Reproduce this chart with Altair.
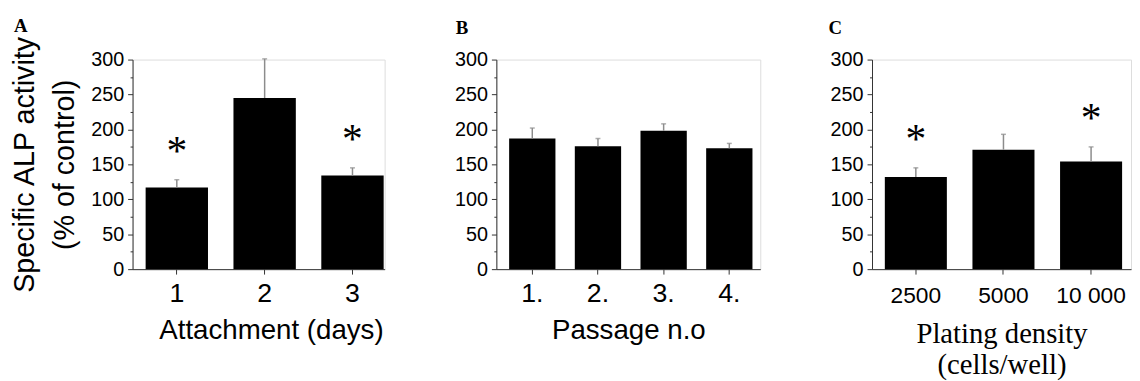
import altair as alt
import pandas as pd

# Panel A
a_cats = ["1", "2", "3"]
a_vals = [117, 245, 134]
a_upper = [128, 301, 145]
a_star = [True, False, True]

# Panel B
b_cats = ["1.", "2.", "3.", "4."]
b_vals = [187, 176, 198, 173]
b_upper = [202, 187, 208, 180]
b_star = [False, False, False, False]

# Panel C
c_cats = ["2500", "5000", "10 000"]
c_vals = [132, 171, 154]
c_upper = [145, 193, 175]
c_star = [True, False, True]

y_ticks = list(range(0, 301, 25))

SANS = "Liberation Sans"
SERIF = "Liberation Serif"
AXIS_GRAY = "#333333"
ERR_GRAY = "#8c8c8c"


def panel(cats, vals, upper, star, letter, letter_dx, letter_offset, xtitle, width,
          pin, pout, align, xlabel_size, xlabel_pad, xtitle_font, xtitle_size,
          xtitle_pad, show_ytitle, title_x=None):
    df = pd.DataFrame({"cat": cats, "value": vals, "upper": upper, "star": star})
    xscale = alt.Scale(paddingInner=pin, paddingOuter=pout, align=align)
    xaxis_kw = dict(
        labelAngle=0, labelFont=SANS, labelFontSize=xlabel_size, labelColor="black",
        labelPadding=xlabel_pad, tickSize=5, tickColor=AXIS_GRAY, domainColor=AXIS_GRAY,
        title=xtitle, titleFont=xtitle_font, titleFontSize=xtitle_size,
        titleFontWeight="normal", titleColor="black", titlePadding=xtitle_pad,
        titleLineHeight=32,
    )
    if title_x is not None:
        xaxis_kw["titleX"] = title_x
    x = alt.X("cat:N", sort=cats, scale=xscale, axis=alt.Axis(**xaxis_kw))
    yaxis_kw = dict(
        values=y_ticks, tickCount=len(y_ticks),
        labelExpr="datum.value % 50 === 0 ? datum.label : ''",
        labelOverlap=False,
        labelFont=SANS, labelFontSize=20, labelColor="black", labelPadding=4,
        tickSize={"condition": {"test": "datum.value % 50 !== 0", "value": 2.5}, "value": 5},
        tickColor=AXIS_GRAY, domainColor=AXIS_GRAY, grid=False,
    )
    if show_ytitle:
        yaxis_kw.update(
            title=["Specific ALP activity", "(% of control)"],
            titleFont=SANS, titleFontSize=29, titleFontWeight="normal",
            titleColor="black", titleLineHeight=41, titlePadding=11,
        )
    else:
        yaxis_kw["title"] = None
    y = alt.Y("value:Q", scale=alt.Scale(domain=[0, 300], nice=False),
              axis=alt.Axis(**yaxis_kw))
    base = alt.Chart(df)
    bars = base.mark_bar(color="black").encode(x=x, y=y)
    err = base.mark_rule(color=ERR_GRAY, strokeWidth=1.5).encode(
        x=alt.X("cat:N", sort=cats), y="value:Q", y2="upper:Q")
    cap = base.mark_tick(color=ERR_GRAY, size=5, thickness=1.5).encode(
        x=alt.X("cat:N", sort=cats), y="upper:Q")
    stars = base.transform_filter("datum.star").mark_text(
        text="*", font=SERIF, fontSize=42, color="black", baseline="alphabetic", dy=-15
    ).encode(x=alt.X("cat:N", sort=cats), y="upper:Q")
    return alt.layer(bars, err, cap, stars).properties(
        width=width, height=212,
        title=alt.TitleParams(letter, anchor="start", frame="group", font=SERIF,
                              fontSize=19, fontWeight="bold", color="black",
                              baseline="alphabetic", offset=letter_offset, dx=letter_dx),
    )


pa = panel(a_cats, a_vals, a_upper, a_star, "A", -120, -16, "Attachment (days)", 255,
           0.29, 0.08, 0.93, 27, 7, SANS, 28, 10, True, title_x=140)
pb = panel(b_cats, b_vals, b_upper, b_star, "B", -41, -3, "Passage n.o", 267,
           0.295, 0.157, 0.62, 27, 7, SANS, 28, 10, False)
pc = panel(c_cats, c_vals, c_upper, c_star, "C", -44, -3, ["Plating density", "(cells/well)"], 262,
           0.292, 0.124, 0.59, 23, 11, SERIF, 29, 12, False)

chart = alt.hconcat(pa, pb, pc, spacing=113, bounds="flush").properties(
    padding={"left": 2, "top": 6, "right": 0, "bottom": 0}
).configure_view(stroke=None).configure(background="white")

chart.save("out.html", embed_options={"renderer": "svg", "actions": False})
